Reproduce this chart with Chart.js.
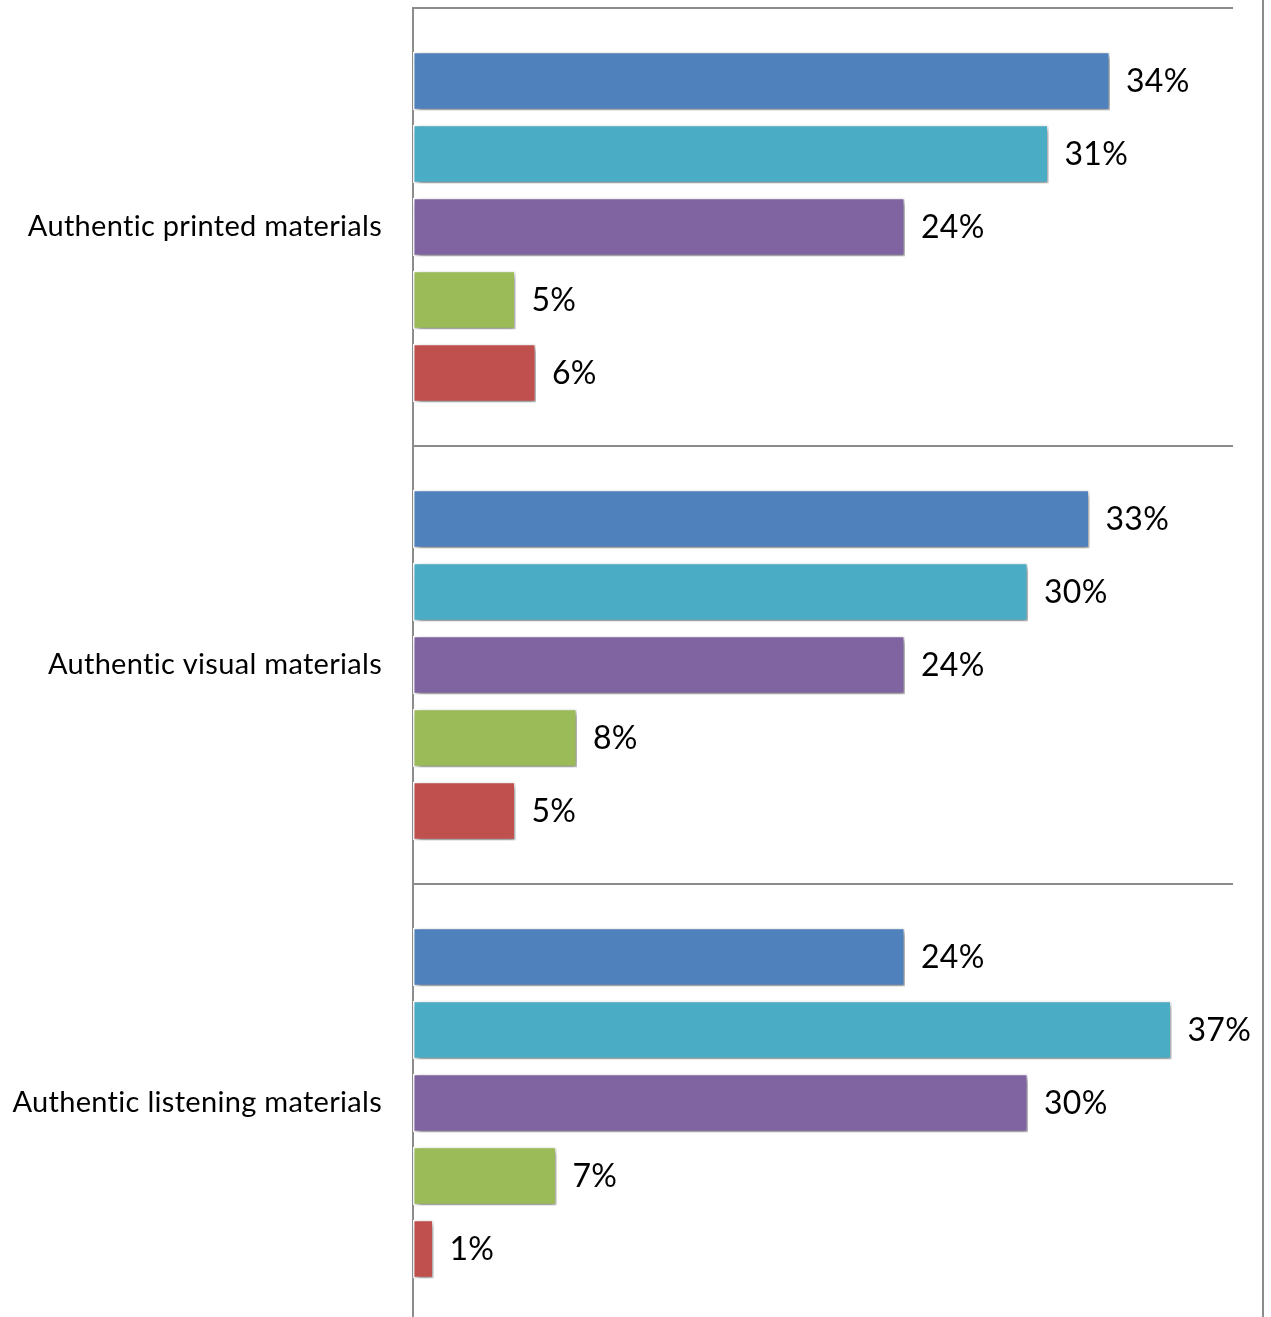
<!DOCTYPE html>
<html>
<head>
<meta charset="utf-8">
<script src="https://cdn.jsdelivr.net/npm/chart.js@4/dist/chart.umd.min.js"></script>
<style>
  html, body { margin: 0; padding: 0; background: #fff; overflow: hidden; }
  #wrap { width: 1271px; height: 1330px; position: relative; }
</style>
</head>
<body>
<div id="wrap"><canvas id="c" width="1271" height="1330"></canvas></div>
<script>
// Categories (one band each) and five series, values in percent
const categories = ['Authentic printed materials', 'Authentic visual materials', 'Authentic listening materials'];
const series1 = [34, 33, 24];
const series2 = [31, 30, 37];
const series3 = [24, 24, 30];
const series4 = [5, 8, 7];
const series5 = [6, 5, 1];
const seriesNames = ['Series 1', 'Series 2', 'Series 3', 'Series 4', 'Series 5'];
const seriesColors = ['#4F81BD', '#4BACC6', '#8064A2', '#9BBB59', '#C0504D'];
const seriesValues = [series1, series2, series3, series4, series5];

const FONT = 'Lato, "Open Sans", "DejaVu Sans", sans-serif';

// Small letter spacing keeps glyphs separate (no "ti" ligature)
const textSpacing = {
  id: 'textSpacing',
  beforeDraw(chart) {
    chart.ctx.letterSpacing = '0.3px';
  }
};

// Soft drop shadow under the bars
const barShadow = {
  id: 'barShadow',
  beforeDatasetsDraw(chart) {
    const ctx = chart.ctx;
    ctx.save();
    ctx.shadowColor = 'rgba(0,0,0,0.45)';
    ctx.shadowBlur = 6;
    ctx.shadowOffsetX = 2;
    ctx.shadowOffsetY = 3;
  },
  afterDatasetsDraw(chart) {
    chart.ctx.restore();
  }
};

// Percentage labels at the end of every bar
const valueLabels = {
  id: 'valueLabels',
  afterDatasetsDraw(chart) {
    const ctx = chart.ctx;
    ctx.save();
    ctx.letterSpacing = '0.3px';
    ctx.font = '32px ' + FONT;
    ctx.fillStyle = '#000';
    ctx.textAlign = 'left';
    ctx.textBaseline = 'middle';
    chart.data.datasets.forEach((ds, i) => {
      const meta = chart.getDatasetMeta(i);
      meta.data.forEach((bar, j) => {
        ctx.fillText(ds.data[j] + '%', bar.x + 16, bar.y + 1);
      });
    });
    ctx.restore();
  }
};

// Outer frame line on the right side
const frameLine = {
  id: 'frameLine',
  afterDraw(chart) {
    const ctx = chart.ctx;
    ctx.save();
    ctx.strokeStyle = '#8c8c8c';
    ctx.lineWidth = 2;
    ctx.beginPath();
    ctx.moveTo(1263, 0);
    ctx.lineTo(1263, chart.height);
    ctx.stroke();
    ctx.restore();
  }
};

new Chart(document.getElementById('c'), {
  type: 'bar',
  data: {
    labels: categories,
    datasets: seriesValues.map((vals, i) => ({
      label: seriesNames[i],
      data: vals,
      backgroundColor: seriesColors[i],
      borderColor: '#ffffff',
      borderWidth: 1.5,
      borderSkipped: false,
      categoryPercentage: 0.833,
      barPercentage: 0.8
    }))
  },
  options: {
    indexAxis: 'y',
    responsive: false,
    animation: false,
    devicePixelRatio: 1,
    layout: { padding: { top: 8, right: 38, bottom: 8, left: 0 } },
    plugins: {
      legend: { display: false },
      tooltip: { enabled: false }
    },
    scales: {
      x: {
        display: false,
        min: 0,
        max: 40
      },
      y: {
        afterFit(scale) {
          scale.width = 413;
          scale.paddingTop = 0;
          scale.paddingBottom = 0;
        },
        grid: {
          offset: true,
          color: '#8c8c8c',
          lineWidth: 2,
          drawTicks: false
        },
        border: { color: '#8c8c8c', width: 2 },
        ticks: {
          color: '#000',
          padding: 31,
          font: { family: FONT, size: 29 }
        }
      }
    }
  },
  plugins: [textSpacing, barShadow, valueLabels, frameLine]
});
</script>
</body>
</html>
